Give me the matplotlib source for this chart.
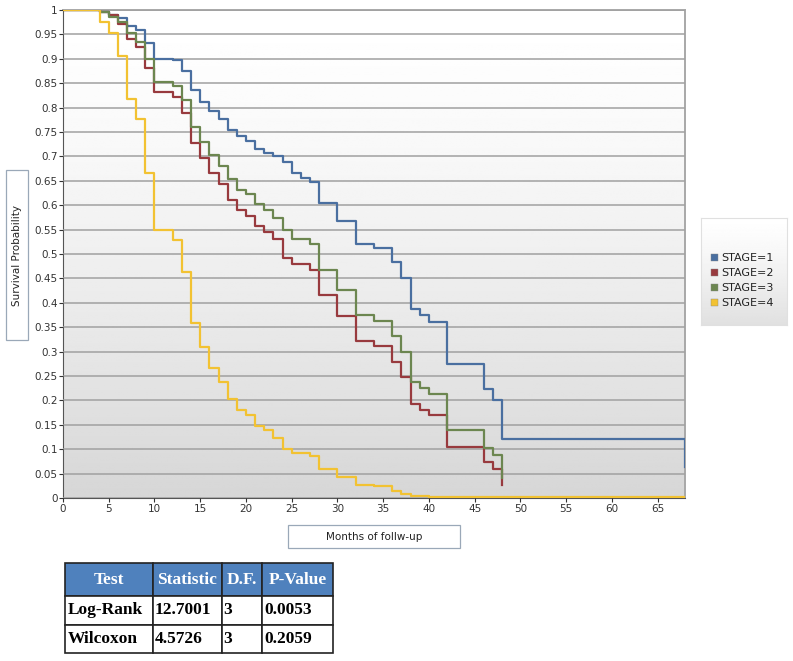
import numpy as np
import matplotlib
matplotlib.use("Agg")
import matplotlib.pyplot as plt
from matplotlib.patches import Rectangle

# Kaplan-Meier step data (months, survival)
t1 = [0, 4, 5, 6, 7, 8, 9, 10, 12, 13, 14, 15, 16, 17, 18, 19, 20, 21, 22, 23, 24, 25,
      26, 27, 28, 30, 32, 34, 36, 37, 38, 39, 40, 42, 46, 47, 48, 68]
s1 = [1, 0.996, 0.99, 0.984, 0.967, 0.958, 0.932, 0.900, 0.897, 0.874, 0.836, 0.812,
      0.794, 0.777, 0.755, 0.741, 0.731, 0.715, 0.706, 0.700, 0.688, 0.666, 0.656, 0.648,
      0.605, 0.568, 0.521, 0.512, 0.483, 0.450, 0.387, 0.376, 0.361, 0.274, 0.223, 0.200,
      0.120, 0.064]

t2 = [0, 4, 5, 6, 7, 8, 9, 10, 12, 13, 14, 15, 16, 17, 18, 19, 20, 21, 22, 23, 24, 25,
      27, 28, 30, 32, 34, 36, 37, 38, 39, 40, 42, 46, 47, 48]
s2 = [1, 0.996, 0.99, 0.971, 0.940, 0.925, 0.882, 0.831, 0.821, 0.789, 0.728, 0.697,
      0.665, 0.644, 0.610, 0.591, 0.578, 0.557, 0.546, 0.530, 0.491, 0.479, 0.467, 0.416,
      0.373, 0.322, 0.312, 0.279, 0.248, 0.192, 0.180, 0.170, 0.105, 0.074, 0.060, 0.027]

t3 = [0, 4, 5, 6, 7, 8, 9, 10, 12, 13, 14, 15, 16, 17, 18, 19, 20, 21, 22, 23, 24, 25,
      27, 28, 30, 32, 34, 36, 37, 38, 39, 40, 42, 46, 47, 48]
s3 = [1, 0.996, 0.985, 0.975, 0.952, 0.935, 0.900, 0.852, 0.845, 0.816, 0.760, 0.729,
      0.702, 0.680, 0.653, 0.631, 0.622, 0.603, 0.591, 0.574, 0.549, 0.530, 0.520, 0.467,
      0.426, 0.374, 0.363, 0.331, 0.300, 0.238, 0.226, 0.214, 0.140, 0.103, 0.088, 0.040]

t4 = [0, 4, 5, 6, 7, 8, 9, 10, 12, 13, 14, 15, 16, 17, 18, 19, 20, 21, 22, 23, 24, 25,
      27, 28, 30, 32, 34, 36, 37, 38, 40, 42, 68]
s4 = [1, 0.976, 0.952, 0.905, 0.818, 0.777, 0.667, 0.549, 0.529, 0.463, 0.358, 0.309,
      0.266, 0.238, 0.202, 0.180, 0.170, 0.148, 0.139, 0.122, 0.100, 0.093, 0.086, 0.059,
      0.043, 0.027, 0.024, 0.015, 0.008, 0.005, 0.003, 0.0015, 0.0015]

labels = ["STAGE=1", "STAGE=2", "STAGE=3", "STAGE=4"]
colors = ["#4a6fa0", "#983a3e", "#6c8650", "#f2c232"]

test_cols = ["Test", "Statistic", "D.F.", "P-Value"]
test_rows = [["Log-Rank", "12.7001", "3", "0.0053"],
             ["Wilcoxon", "4.5726", "3", "0.2059"]]

W, H = 793, 661
fig = plt.figure(figsize=(W / 100, H / 100), dpi=100)
fig.patch.set_facecolor("white")


def fbox(x0, y0, x1, y1):
    # pixel box -> figure fraction rect
    return [x0 / W, 1 - y1 / H, (x1 - x0) / W, (y1 - y0) / H]


ax = fig.add_axes(fbox(63, 10, 685, 498))
xmax = 68
grad = 1 - 0.16 * (1 - np.linspace(1, 0, 256)) ** 1.4
ax.imshow(np.repeat(grad[:, None], 2, axis=1), cmap="gray", vmin=0, vmax=1,
          extent=[0, xmax, 0, 1], aspect="auto", zorder=0)

for t, s, c, lab in zip([t1, t2, t3, t4], [s1, s2, s3, s4], colors, labels):
    ax.step(t, s, where="post", color=c, lw=1.6, label=lab, zorder=3)

ax.set_xlim(0, xmax)
ax.set_ylim(0, 1)
ax.set_xticks(np.arange(0, 66, 5))
yt = np.round(np.arange(0, 1.0001, 0.05), 2)
ax.set_yticks(yt)
ax.set_yticklabels([("%g" % v) for v in yt])
ax.yaxis.grid(True, color="#a0a0a0", lw=1.1, zorder=1)
ax.set_axisbelow(False)
ax.tick_params(labelsize=7.5, colors="#333333", length=3, width=0.8, pad=1)
for side in ["left", "bottom"]:
    ax.spines[side].set_color("#555555")
for side in ["top", "right"]:
    ax.spines[side].set_color("#a8a8a8")
    ax.spines[side].set_linewidth(1.4)

# axis title boxes
fig.patches.append(Rectangle((6 / W, 1 - 340 / H), 22 / W, 170 / H,
                             transform=fig.transFigure, fc="white", ec="#9aa8b8", lw=0.9))
fig.text(17 / W, 1 - 255 / H, "Survival Probability", rotation=90, ha="center",
         va="center", fontsize=7.5, color="#222222")
fig.patches.append(Rectangle((288 / W, 1 - 548 / H), 172 / W, 23 / H,
                             transform=fig.transFigure, fc="white", ec="#9aa8b8", lw=0.9))
fig.text(374 / W, 1 - 536.5 / H, "Months of follw-up", ha="center", va="center",
         fontsize=7.5, color="#222222")

# legend panel
lax = fig.add_axes(fbox(701, 218, 787, 325))
lg = 1 - 0.12 * np.linspace(0, 1, 128) ** 1.2
lax.imshow(np.repeat(lg[:, None], 2, axis=1), cmap="gray", vmin=0, vmax=1,
           extent=[0, 1, 0, 1], aspect="auto")
lax.set_xlim(0, 1)
lax.set_ylim(0, 1)
lax.set_xticks([])
lax.set_yticks([])
for sp in lax.spines.values():
    sp.set_color("#e0e0e0")
for i, (lab, c) in enumerate(zip(labels, colors)):
    yy = 0.63 - i * 0.14
    lax.add_patch(Rectangle((0.12, yy - 0.035), 0.075, 0.07, fc=c, ec="#888888", lw=0.3))
    lax.text(0.23, yy, lab, va="center", ha="left", fontsize=8, color="#222222")

# statistics table
tax = fig.add_axes(fbox(65, 563, 333, 653))
tax.axis("off")
tbl = tax.table(cellText=test_rows, colLabels=test_cols, bbox=[0, 0, 1, 1],
                colWidths=[88, 69, 40, 71], cellLoc="left")
tbl.auto_set_font_size(False)
row_h = {0: 33, 1: 29, 2: 28}
for (r, c), cell in tbl.get_celld().items():
    cell.set_edgecolor("#222222")
    cell.set_linewidth(1.2)
    cell.set_height(row_h[r] / 90)
    txt = cell.get_text()
    txt.set_fontfamily("Liberation Serif")
    txt.set_fontweight("bold")
    txt.set_fontsize(12.5)
    cell.PAD = 0.03
    if r == 0:
        cell.set_facecolor("#4f81bd")
        txt.set_color("white")
        txt.set_ha("center")
        cell._loc = "center"
    else:
        cell.set_facecolor("white")
        txt.set_color("black")

fig.savefig("out.png", dpi=100)
